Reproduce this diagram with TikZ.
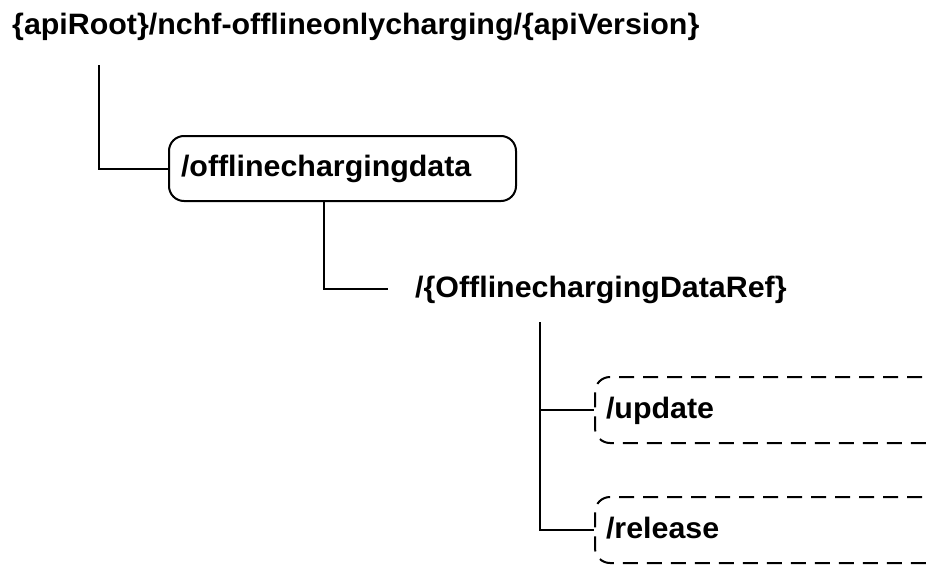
\documentclass[tikz,border=0pt]{standalone}
\usepackage{fontspec}
\setmainfont{Liberation Sans}
\usetikzlibrary{calc}
\tikzset{
  lbl/.style={font=\fontsize{29.5}{35}\selectfont\bfseries\addfontfeatures{FakeStretch=1.03}, text height=22pt, text depth=6pt},
  solidbox/.style={lbl, draw, line width=2pt, rounded corners=15pt, minimum height=65pt,
    anchor=west, align=left, text width=323pt, inner xsep=12pt, inner ysep=0pt},
  dashbox/.style={lbl, draw, line width=2pt, dash pattern=on 15pt off 9pt, rounded corners=15pt,
    minimum height=66pt, anchor=west, align=left, text width=344pt, inner xsep=11pt, inner ysep=0pt},
  conn/.style={line width=2pt}
}
\begin{document}
\begin{tikzpicture}[x=1pt,y=-1pt]
  \clip (0,0) rectangle (930,565);
  \fill[white] (0,0) rectangle (930,565);
  \node[lbl, anchor=base west, inner sep=0pt] (t) at (12,34) {\{apiRoot\}/nchf-offlineonlycharging/\{apiVersion\}};
  \node[solidbox] (b1) at (168,168.5) {/offlinechargingdata};
  \node[lbl, anchor=west, inner xsep=27pt, inner ysep=0pt] (r) at (388,289) {/\{OfflinechargingDataRef\}};
  \node[dashbox] (u) at (594,410) {/update};
  \node[dashbox] (l) at (594,530) {/release};
  \coordinate (c0) at (99,65);
  \coordinate (c1) at (540,322);
  \draw[conn] (c0) |- (b1.west);
  \draw[conn] ($(b1.south west)+(156,0)$) |- (r.west);
  \draw[conn] (c1) |- (u.west);
  \draw[conn] (c1) |- (l.west);
\end{tikzpicture}
\end{document}
